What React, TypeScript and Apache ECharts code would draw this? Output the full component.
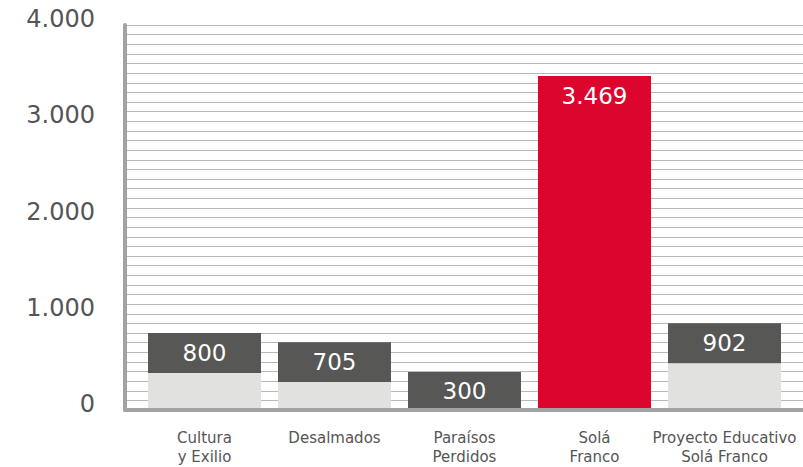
import React, { useEffect, useRef } from "react";
import * as echarts from "echarts";

const categories = [
  "Cultura\ny Exilio",
  "Desalmados",
  "Paraísos\nPerdidos",
  "Solá\nFranco",
  "Proyecto Educativo\nSolá Franco",
];
// stacked parts: light base + dark label box
const baseValues = [385, 290, 0, 0, 487];
const capValues = [415, 415, 395, 3469, 415];
const valueLabels = ["800", "705", "300", "3.469", "902"];
const yTickLabels: Record<number, string> = { 0: "0", 1000: "1.000", 2000: "2.000", 3000: "3.000", 4000: "4.000" };
const highlightIndex = 3;

const RED = "#DC052D";
const DARK = "#575756";
const LIGHT = "#E1E1DF";
const AXIS = "#A3A3A3";
const GRIDLINE = "#B8B8B8";
const TEXT = "#555555";
const FONT = "DejaVu Sans";

export default function App() {
  const ref = useRef<HTMLDivElement>(null);
  useEffect(() => {
    document.body.style.margin = "0";
    const chart = echarts.init(ref.current!, null, { renderer: "svg" });
    const capData = capValues.map((v, i) =>
      i === highlightIndex ? { value: v, itemStyle: { color: RED } } : v
    );
    chart.setOption({
      animation: false,
      grid: [
        { left: 125, right: 0, top: 25, bottom: 57 },
        { left: 139.5, right: 13.5, top: 25, bottom: 57 },
      ],
      xAxis: [
        {
          gridIndex: 0,
          type: "value",
          min: 0,
          max: 1,
          z: 5,
          axisLine: { show: true, onZero: false, lineStyle: { color: AXIS, width: 4 } },
          axisTick: { show: false },
          axisLabel: { show: false },
          splitLine: { show: false },
        },
        {
          gridIndex: 1,
          type: "category",
          data: categories,
          axisLine: { show: false },
          axisTick: { show: false },
          axisLabel: {
            interval: 0,
            fontFamily: FONT,
            fontSize: 15,
            lineHeight: 19,
            color: TEXT,
            margin: 18,
          },
        },
      ],
      yAxis: [
        {
          gridIndex: 0,
          type: "value",
          min: 0,
          max: 4000,
          interval: 1000,
          axisLine: { show: true, lineStyle: { color: AXIS, width: 4 } },
          axisTick: { show: false },
          minorTick: { show: false, splitNumber: 10 },
          splitLine: { show: true, lineStyle: { color: GRIDLINE, width: 1 } },
          minorSplitLine: { show: true, lineStyle: { color: GRIDLINE, width: 1 } },
          axisLabel: {
            formatter: (v: number) => yTickLabels[v] ?? "",
            fontFamily: FONT,
            fontSize: 24,
            color: TEXT,
            margin: 30,
            verticalAlign: "bottom",
            lineHeight: 12,
          },
        },
        {
          gridIndex: 1,
          type: "value",
          min: 0,
          max: 4000,
          show: false,
          splitLine: { show: false },
        },
      ],
      series: [
        {
          type: "bar",
          xAxisIndex: 1,
          yAxisIndex: 1,
          stack: "a",
          barWidth: 113,
          data: baseValues,
          itemStyle: { color: LIGHT },
        },
        {
          type: "bar",
          xAxisIndex: 1,
          yAxisIndex: 1,
          stack: "a",
          barWidth: 113,
          data: capData,
          itemStyle: { color: DARK },
          label: {
            show: true,
            position: "insideTop",
            distance: 8,
            formatter: (p: any) => valueLabels[p.dataIndex],
            color: "#FFFFFF",
            fontFamily: FONT,
            fontSize: 23,
          },
        },
      ],
    });
    return () => chart.dispose();
  }, []);
  return <div ref={ref} style={{ width: 803, height: 467 }} />;
}
